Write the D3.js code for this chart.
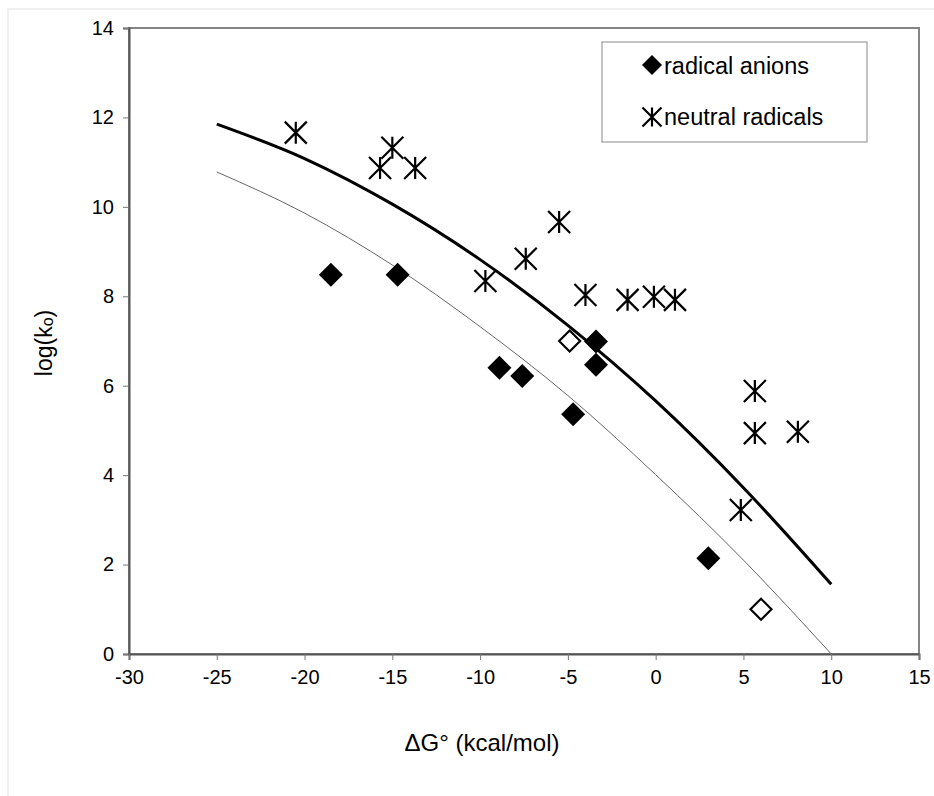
<!DOCTYPE html>
<meta charset="utf-8">
<html>
<head>
<script src="https://d3js.org/d3.v7.min.js"></script>
<style>
  body { margin: 0; background: #fff; }
  text { font-family: "Liberation Sans", Arial, sans-serif; fill: #000; }
</style>
</head>
<body>
<svg id="my_dataviz" width="934" height="796"></svg>
</body>
</html>
<script>

// Data
var anionX = [-18.5, -14.7, -8.9, -7.6, -4.7, -3.4, -3.4, 3.0];
var anionY = [8.48, 8.48, 6.40, 6.22, 5.36, 6.99, 6.47, 2.14];

var openAnionX = [-4.9, 6.0];
var openAnionY = [7.0, 1.0];

var neutralX = [-20.5, -15.7, -15.0, -13.7, -9.7, -7.4, -5.5, -4.0, -1.6, -0.1, 1.1, 4.85, 5.65, 5.65, 8.1];
var neutralY = [11.66, 10.87, 11.32, 10.87, 8.34, 8.84, 9.66, 8.03, 7.92, 7.99, 7.92, 3.22, 5.88, 4.94, 4.97];

// fitted curves
var curveX   = [-25, -20, -15, -10, -5, 0, 5, 10];
var fitThick = [11.85, 11.08, 10.06, 8.82, 7.35, 5.66, 3.72, 1.56];
var fitThin  = [10.78, 9.86, 8.70, 7.32, 5.78, 4.01, 2.1, 0];

var xTicks = [-30, -25, -20, -15, -10, -5, 0, 5, 10, 15];
var yTicks = [0, 2, 4, 6, 8, 10, 12, 14];

var legendLabels = ["radical anions", "neutral radicals"];

var svg = d3.select("svg");

// light outer frame
svg.append("rect")
  .attr("x", 8).attr("y", 9)
  .attr("width", 940).attr("height", 800)
  .attr("fill", "none")
  .attr("stroke", "#e4e4e4");

var mLeft = 129, mRight = 919, mTop = 28, mBottom = 654;

var x = d3.scaleLinear().domain([-30, 15]).range([mLeft, mRight]);
var y = d3.scaleLinear().domain([0, 14]).range([mBottom, mTop]);

// plot frame
svg.append("rect")
  .attr("x", mLeft).attr("y", mTop)
  .attr("width", mRight - mLeft).attr("height", mBottom - mTop)
  .attr("fill", "none")
  .attr("stroke", "#858585")
  .attr("stroke-width", 2);

// axes
var yAxis = svg.append("g")
  .attr("transform", "translate(" + mLeft + ",0)")
  .call(d3.axisLeft(y).tickValues(yTicks).tickSize(6).tickPadding(9).tickFormat(function (d) { return String(d); }));

var xAxis = svg.append("g")
  .attr("transform", "translate(0," + mBottom + ")")
  .call(d3.axisBottom(x).tickValues(xTicks).tickSize(6).tickPadding(10).tickFormat(function (d) { return String(d); }));

[xAxis, yAxis].forEach(function (g) {
  g.select(".domain").attr("stroke", "#555").attr("stroke-width", 2);
  g.selectAll(".tick line").attr("stroke", "#777");
  g.selectAll("text").attr("font-family", "Liberation Sans, Arial, sans-serif").attr("font-size", 20).attr("fill", "#000");
});

// axis titles
svg.append("text")
  .attr("x", 482).attr("y", 751)
  .attr("text-anchor", "middle")
  .attr("font-size", 24)
  .text("\u0394G\u00b0 (kcal/mol)");

var yt = svg.append("text")
  .attr("transform", "translate(52,343) rotate(-90)")
  .attr("text-anchor", "middle")
  .attr("font-size", 23);
yt.append("tspan").text("log(k");
yt.append("tspan").attr("font-size", 16).attr("dy", 1).text("o");
yt.append("tspan").attr("dy", -1).text(")");

// curves
var line = d3.line().curve(d3.curveMonotoneX);

svg.append("path")
  .attr("d", line(curveX.map(function (d, i) { return [x(d), y(fitThin[i])]; })))
  .attr("fill", "none")
  .attr("stroke", "#666")
  .attr("stroke-width", 1);

svg.append("path")
  .attr("d", line(curveX.map(function (d, i) { return [x(d), y(fitThick[i])]; })))
  .attr("fill", "none")
  .attr("stroke", "#000")
  .attr("stroke-width", 3);

// markers
function diamond(s) { return "M0," + (-s) + "L" + s + ",0L0," + s + "L" + (-s) + ",0Z"; }
function star(s) {
  return "M" + (-s) + "," + (-s) + "L" + s + "," + s +
         "M" + (-s) + "," + s + "L" + s + "," + (-s) +
         "M0," + (-s) + "L0," + s;
}

svg.append("g").selectAll("path")
  .data(neutralX)
  .enter()
  .append("path")
    .attr("transform", function (d, i) { return "translate(" + x(d) + "," + y(neutralY[i]) + ")"; })
    .attr("d", star(11))
    .attr("fill", "none")
    .attr("stroke", "#000")
    .attr("stroke-width", 2.2);

svg.append("g").selectAll("path")
  .data(anionX)
  .enter()
  .append("path")
    .attr("transform", function (d, i) { return "translate(" + x(d) + "," + y(anionY[i]) + ")"; })
    .attr("d", diamond(12))
    .attr("fill", "#000");

svg.append("g").selectAll("path")
  .data(openAnionX)
  .enter()
  .append("path")
    .attr("transform", function (d, i) { return "translate(" + x(d) + "," + y(openAnionY[i]) + ")"; })
    .attr("d", diamond(10.5))
    .attr("fill", "#fff")
    .attr("stroke", "#000")
    .attr("stroke-width", 2.2);

// legend
var lg = svg.append("g");
lg.append("rect")
  .attr("x", 602).attr("y", 42)
  .attr("width", 265).attr("height", 100)
  .attr("fill", "#fff")
  .attr("stroke", "#888")
  .attr("stroke-width", 1);

lg.append("path")
  .attr("transform", "translate(652,65)")
  .attr("d", diamond(10))
  .attr("fill", "#000");
lg.append("path")
  .attr("transform", "translate(652,117)")
  .attr("d", star(9.5))
  .attr("fill", "none")
  .attr("stroke", "#000")
  .attr("stroke-width", 2.2);

lg.selectAll("text")
  .data(legendLabels)
  .enter()
  .append("text")
    .attr("x", 664)
    .attr("y", function (d, i) { return 74 + i * 51; })
    .attr("font-size", 23.5)
    .text(function (d) { return d; });

</script>
